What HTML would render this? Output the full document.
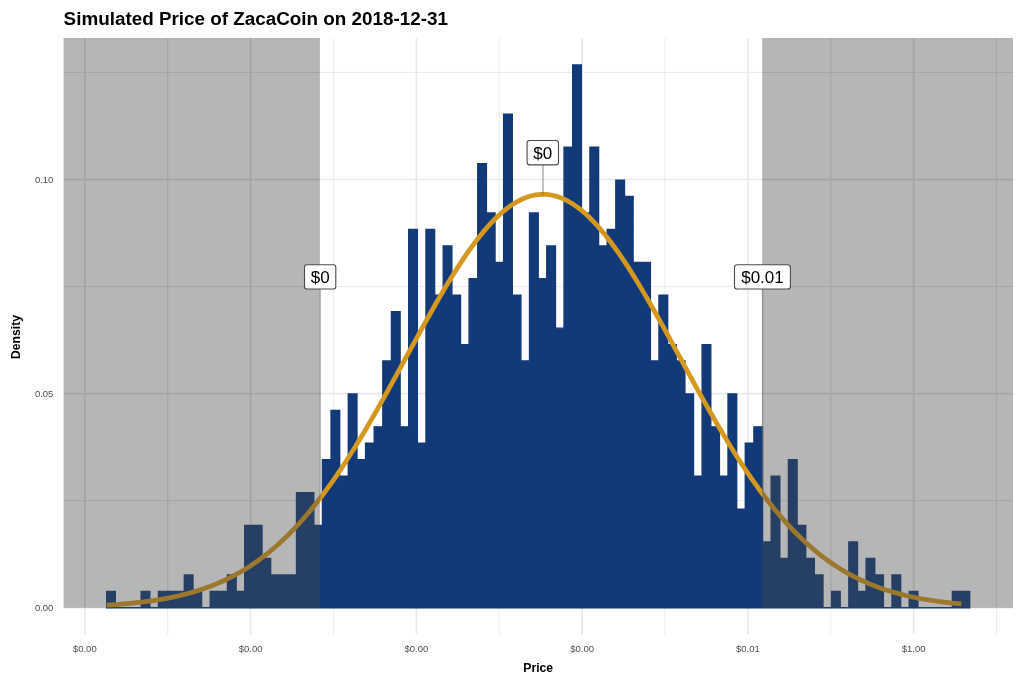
<!DOCTYPE html><html><head><meta charset="utf-8"><title>Simulated Price of ZacaCoin</title>
<style>html,body{margin:0;padding:0;background:#fff}svg{display:block;will-change:transform;transform:translateZ(0)}text{font-family:"Liberation Sans",Arial,Helvetica,sans-serif}</style></head><body>
<svg width="1024" height="683" viewBox="0 0 1024 683">
<rect width="1024" height="683" fill="#fff"/>
<g stroke="#e9e9e9" fill="none">
<line x1="167.68" x2="167.68" y1="38.00" y2="634.60" stroke-width="0.9"/>
<line x1="333.45" x2="333.45" y1="38.00" y2="634.60" stroke-width="0.9"/>
<line x1="499.22" x2="499.22" y1="38.00" y2="634.60" stroke-width="0.9"/>
<line x1="664.99" x2="664.99" y1="38.00" y2="634.60" stroke-width="0.9"/>
<line x1="830.76" x2="830.76" y1="38.00" y2="634.60" stroke-width="0.9"/>
<line x1="996.53" x2="996.53" y1="38.00" y2="634.60" stroke-width="0.9"/>
<line x1="63.60" x2="1013.00" y1="500.65" y2="500.65" stroke-width="0.9"/>
<line x1="63.60" x2="1013.00" y1="286.55" y2="286.55" stroke-width="0.9"/>
<line x1="63.60" x2="1013.00" y1="72.45" y2="72.45" stroke-width="0.9"/>
<line x1="84.80" x2="84.80" y1="38.00" y2="634.60" stroke-width="1.7"/>
<line x1="250.57" x2="250.57" y1="38.00" y2="634.60" stroke-width="1.7"/>
<line x1="416.34" x2="416.34" y1="38.00" y2="634.60" stroke-width="1.7"/>
<line x1="582.11" x2="582.11" y1="38.00" y2="634.60" stroke-width="1.7"/>
<line x1="747.88" x2="747.88" y1="38.00" y2="634.60" stroke-width="1.7"/>
<line x1="913.65" x2="913.65" y1="38.00" y2="634.60" stroke-width="1.7"/>
<line x1="63.60" x2="1013.00" y1="607.70" y2="607.70" stroke-width="1.6"/>
<line x1="63.60" x2="1013.00" y1="393.60" y2="393.60" stroke-width="1.6"/>
<line x1="63.60" x2="1013.00" y1="179.55" y2="179.55" stroke-width="1.6"/>
</g>
<g stroke="#e3e3e3" fill="none">
<line x1="167.68" x2="167.68" y1="38.00" y2="607.70" stroke-width="0.9"/>
<line x1="84.80" x2="84.80" y1="38.00" y2="607.70" stroke-width="1.4"/>
<line x1="250.57" x2="250.57" y1="38.00" y2="607.70" stroke-width="1.4"/>
<line x1="63.60" x2="319.90" y1="500.65" y2="500.65" stroke-width="0.9"/>
<line x1="63.60" x2="319.90" y1="286.55" y2="286.55" stroke-width="0.9"/>
<line x1="63.60" x2="319.90" y1="72.45" y2="72.45" stroke-width="0.9"/>
<line x1="63.60" x2="319.90" y1="393.60" y2="393.60" stroke-width="1.4"/>
<line x1="63.60" x2="319.90" y1="179.55" y2="179.55" stroke-width="1.4"/>
<line x1="830.76" x2="830.76" y1="38.00" y2="607.70" stroke-width="0.9"/>
<line x1="996.53" x2="996.53" y1="38.00" y2="607.70" stroke-width="0.9"/>
<line x1="913.65" x2="913.65" y1="38.00" y2="607.70" stroke-width="1.4"/>
<line x1="762.20" x2="1013.00" y1="500.65" y2="500.65" stroke-width="0.9"/>
<line x1="762.20" x2="1013.00" y1="286.55" y2="286.55" stroke-width="0.9"/>
<line x1="762.20" x2="1013.00" y1="72.45" y2="72.45" stroke-width="0.9"/>
<line x1="762.20" x2="1013.00" y1="393.60" y2="393.60" stroke-width="1.4"/>
<line x1="762.20" x2="1013.00" y1="179.55" y2="179.55" stroke-width="1.4"/>
</g>
<path d="M106.67,607.80V591.35H115.30V607.80H123.93V607.80H132.56V607.80H141.19V591.35H149.82V607.80H158.45V591.35H167.08V591.35H175.71V591.35H184.34V574.90H192.97V591.35H201.60V607.80H210.23V591.35H218.86V591.35H227.49V574.90H236.12V591.35H244.75V525.55H253.38V525.55H262.01V558.45H270.64V574.90H279.27V574.90H287.90V574.90H296.53V492.65H305.16V492.65H313.79V525.55H322.42V459.75H331.05V410.40H339.68V476.20H348.31V393.95H356.94V459.75H365.57V443.30H374.20V426.85H382.83V361.05H391.46V311.70H400.09V426.85H408.72V229.45H417.35V443.30H425.98V229.45H434.61V295.25H443.24V245.90H451.87V295.25H460.50V344.60H469.13V278.80H477.76V163.65H486.39V213.00H495.02V262.35H503.65V114.30H512.28V295.25H520.91V361.05H529.54V213.00H538.17V278.80H546.80V245.90H555.43V328.15H564.06V147.20H572.69V64.95H581.32V213.00H589.95V147.20H598.58V245.90H607.21V229.45H615.84V180.10H624.47V196.55H633.10V262.35H641.73V262.35H650.36V361.05H658.99V295.25H667.62V344.60H676.25V361.05H684.88V393.95H693.51V476.20H702.14V344.60H710.77V426.85H719.40V476.20H728.03V393.95H736.66V509.10H745.29V443.30H753.92V426.85H762.55V542.00H771.18V476.20H779.81V558.45H788.44V459.75H797.07V525.55H805.70V558.45H814.33V574.90H822.96V607.80H831.59V591.35H840.22V607.80H848.85V542.00H857.48V591.35H866.11V558.45H874.74V574.90H883.37V607.80H892.00V574.90H900.63V607.80H909.26V591.35H917.89V607.80H926.52V607.80H935.15V607.80H943.78V607.80H952.41V591.35H961.04V591.35H969.67V607.80Z" fill="#123a78" stroke="#123a78" stroke-width="1.40" stroke-linejoin="miter"/>
<polyline points="106.60,605.17 110.87,604.90 115.15,604.62 119.42,604.30 123.69,603.96 127.97,603.58 132.24,603.17 136.51,602.73 140.79,602.25 145.06,601.73 149.33,601.16 153.61,600.55 157.88,599.89 162.16,599.17 166.43,598.40 170.70,597.57 174.98,596.67 179.25,595.71 183.52,594.68 187.80,593.57 192.07,592.38 196.34,591.11 200.62,589.75 204.89,588.29 209.16,586.74 213.44,585.09 217.71,583.33 221.98,581.46 226.26,579.48 230.53,577.37 234.80,575.14 239.08,572.78 243.35,570.29 247.63,567.66 251.90,564.88 256.17,561.95 260.45,558.87 264.72,555.64 268.99,552.25 273.27,548.69 277.54,544.97 281.81,541.07 286.09,537.01 290.36,532.76 294.63,528.35 298.91,523.75 303.18,518.97 307.45,514.02 311.73,508.88 316.00,503.57 320.27,498.07 324.55,492.40 328.82,486.55 333.10,480.53 337.37,474.34 341.64,467.99 345.92,461.48 350.19,454.81 354.46,448.00 358.74,441.04 363.01,433.95 367.28,426.74 371.56,419.41 375.83,411.98 380.10,404.45 384.38,396.84 388.65,389.16 392.92,381.42 397.20,373.63 401.47,365.81 405.75,357.98 410.02,350.14 414.29,342.32 418.57,334.52 422.84,326.78 427.11,319.09 431.39,311.48 435.66,303.97 439.93,296.58 444.21,289.31 448.48,282.20 452.75,275.25 457.03,268.48 461.30,261.91 465.57,255.56 469.85,249.45 474.12,243.58 478.39,237.98 482.67,232.66 486.94,227.64 491.22,222.92 495.49,218.53 499.76,214.47 504.04,210.76 508.31,207.40 512.58,204.41 516.86,201.79 521.13,199.56 525.40,197.71 529.68,196.26 533.95,195.20 538.22,194.55 542.50,194.30 546.77,194.46 551.04,195.02 555.32,195.97 559.59,197.33 563.86,199.09 568.14,201.23 572.41,203.76 576.68,206.66 580.96,209.93 585.23,213.56 589.51,217.54 593.78,221.86 598.05,226.50 602.33,231.45 606.60,236.71 610.87,242.24 615.15,248.05 619.42,254.10 623.69,260.40 627.97,266.92 632.24,273.64 636.51,280.55 640.79,287.62 645.06,294.86 649.33,302.22 653.61,309.71 657.88,317.29 662.15,324.96 666.43,332.70 670.70,340.48 674.98,348.30 679.25,356.13 683.52,363.97 687.80,371.79 692.07,379.59 696.34,387.34 700.62,395.04 704.89,402.67 709.16,410.22 713.44,417.67 717.71,425.03 721.98,432.27 726.26,439.39 730.53,446.37 734.80,453.22 739.08,459.92 743.35,466.47 747.62,472.86 751.90,479.09 756.17,485.15 760.45,491.04 764.72,496.75 768.99,502.29 773.27,507.65 777.54,512.82 781.81,517.82 786.09,522.64 790.36,527.28 794.63,531.74 798.91,536.02 803.18,540.13 807.45,544.07 811.73,547.83 816.00,551.43 820.27,554.86 824.55,558.13 828.82,561.24 833.10,564.20 837.37,567.01 841.64,569.68 845.92,572.21 850.19,574.60 854.46,576.86 858.74,579.00 863.01,581.01 867.28,582.90 871.56,584.69 875.83,586.36 880.10,587.94 884.38,589.41 888.65,590.79 892.92,592.09 897.20,593.29 901.47,594.42 905.74,595.47 910.02,596.45 914.29,597.36 918.57,598.21 922.84,598.99 927.11,599.72 931.39,600.40 935.66,601.02 939.93,601.60 944.21,602.13 948.48,602.62 952.75,603.07 957.03,603.49 961.30,603.87" fill="none" stroke="#d4981f" stroke-width="4.75" stroke-linejoin="round" stroke-linecap="butt"/>
<g fill="#464646" fill-opacity="0.395">
<rect x="63.60" y="38.00" width="256.30" height="569.70"/>
<rect x="762.20" y="38.00" width="250.80" height="569.70"/>
</g>
<g stroke="#707070" stroke-opacity="0.6" stroke-width="1.35">
<line x1="320.15" x2="320.15" y1="289" y2="498.43"/>
<line x1="542.95" x2="542.95" y1="164.9" y2="194.40"/>
<line x1="762.6" x2="762.6" y1="289" y2="493.67"/>
</g>
<rect x="304.50" y="264.70" width="31.30" height="24.30" rx="2.6" ry="2.6" fill="#fff" stroke="#4a4a4a" stroke-width="1.1"/>
<text x="320.15" y="282.95" font-size="17" text-anchor="middle" fill="#000">$0</text>
<rect x="527.10" y="140.50" width="31.40" height="24.40" rx="2.6" ry="2.6" fill="#fff" stroke="#4a4a4a" stroke-width="1.1"/>
<text x="542.80" y="158.80" font-size="17" text-anchor="middle" fill="#000">$0</text>
<rect x="734.50" y="264.70" width="55.90" height="24.30" rx="2.6" ry="2.6" fill="#fff" stroke="#4a4a4a" stroke-width="1.1"/>
<text x="762.45" y="282.95" font-size="17" text-anchor="middle" fill="#000">$0.01</text>
<text x="63.6" y="24.5" font-size="18.85" font-weight="bold" fill="#000">Simulated Price of ZacaCoin on 2018-12-31</text>
<text transform="translate(20.2,337) rotate(-90)" font-size="12.2" font-weight="bold" text-anchor="middle" fill="#000">Density</text>
<text x="538.2" y="671.9" font-size="12.2" font-weight="bold" text-anchor="middle" fill="#000">Price</text>
<g font-size="9.5" fill="#4d4d4d">
<text x="53.4" y="611.10" text-anchor="end">0.00</text>
<text x="53.4" y="397.00" text-anchor="end">0.05</text>
<text x="53.4" y="182.95" text-anchor="end">0.10</text>
<text x="84.80" y="651.5" text-anchor="middle">$0.00</text>
<text x="250.57" y="651.5" text-anchor="middle">$0.00</text>
<text x="416.34" y="651.5" text-anchor="middle">$0.00</text>
<text x="582.11" y="651.5" text-anchor="middle">$0.00</text>
<text x="747.88" y="651.5" text-anchor="middle">$0.01</text>
<text x="913.65" y="651.5" text-anchor="middle">$1.00</text>
</g>
</svg></body></html>
